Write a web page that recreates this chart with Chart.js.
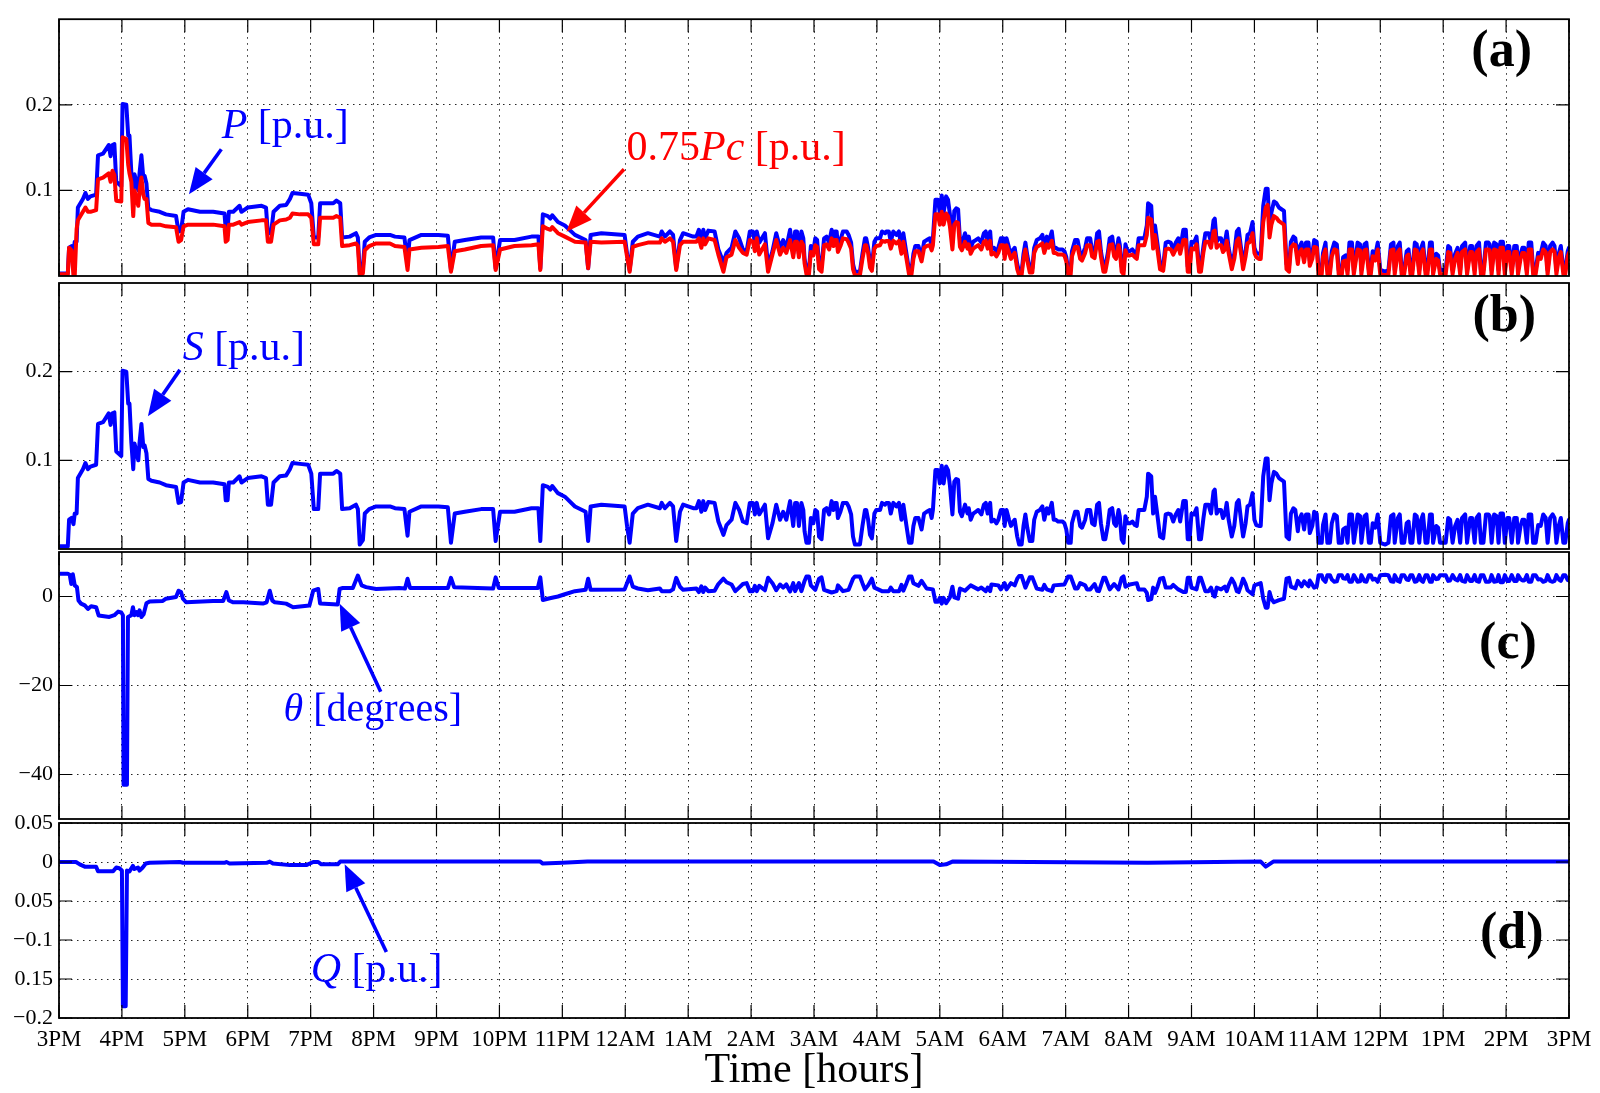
<!DOCTYPE html>
<html><head><meta charset="utf-8">
<script src="https://cdn.jsdelivr.net/npm/chart.js"></script>
<style>
html,body{margin:0;padding:0;background:#fff;}
#wrap{position:relative;width:1600px;height:1093px;background:#fff;}
canvas{position:absolute;left:0;top:0;}
</style></head>
<body><div id="wrap">
<canvas id="ca" width="1600" height="1093"></canvas>
<canvas id="cb" width="1600" height="1093"></canvas>
<canvas id="cc" width="1600" height="1093"></canvas>
<canvas id="cd" width="1600" height="1093"></canvas>
</div>
<script>
// ---------- tick labels ----------
const hourTicks = [0,1,2,3,4,5,6,7,8,9,10,11,12,13,14,15,16,17,18,19,20,21,22,23,24];
const hourLabels = ['3PM','4PM','5PM','6PM','7PM','8PM','9PM','10PM','11PM','12AM','1AM','2AM','3AM','4AM','5AM','6AM','7AM','8AM','9AM','10AM','11AM','12PM','1PM','2PM','3PM'];
const puTicks = [0.1, 0.2];
const puTickLabels = ['0.1', '0.2'];
const thetaTicks = [-40, -20, 0];
const thetaTickLabels = ['\u221240', '\u221220', '0'];
const qTicks = [-0.2, -0.15, -0.1, -0.05, 0, 0.05];
const qTickLabels = ['\u22120.2', '0.15', '\u22120.1', '0.05', '0', '0.05'];

// ---------- series (time in hours after 3PM) ----------
const pTimes = [
0.00,0.14,0.16,0.20,0.23,0.25,0.28,0.30,0.38,0.42,
0.46,0.50,0.59,0.62,0.70,0.79,0.82,0.85,0.88,0.91,
0.99,1.01,1.07,1.10,1.12,1.15,1.18,1.20,1.23,1.26,
1.28,1.31,1.34,1.36,1.39,1.42,1.47,1.60,1.70,1.86,
1.90,1.94,1.98,2.05,2.24,2.45,2.63,2.65,2.68,2.70,
2.77,2.87,2.90,3.00,3.22,3.29,3.32,3.37,3.41,3.51,
3.61,3.67,3.71,3.83,3.96,4.01,4.05,4.12,4.15,4.36,
4.41,4.47,4.50,4.62,4.72,4.75,4.78,4.83,4.86,4.93,
5.04,5.26,
5.34,5.49,5.54,5.57,5.76,6.03,6.18,6.23,6.29,6.45,
6.71,6.90,6.94,7.01,7.24,7.51,7.62,7.65,7.69,7.77,
7.81,7.84,7.93,8.04,8.20,8.37,8.41,8.45,8.62,8.99,
9.03,9.07,9.12,9.20,9.36,9.55,9.58,9.63,9.71,9.76,
9.81,9.87,9.92,10.08,10.13,10.17,10.21,10.24,10.27,10.32,
10.42,10.48,10.56,10.61,10.69,10.75,10.81,10.87,10.93,10.98,
11.03,11.06,11.09,11.13,11.22,11.27,11.34,11.40,11.46,11.51,
11.56,11.62,
11.67,11.70,11.73,11.76,11.80,11.83,11.85,11.88,11.92,11.95,
11.99,12.02,12.05,12.08,12.12,12.16,12.20,12.24,12.28,12.31,
12.33,12.36,12.38,12.42,12.46,12.52,12.55,12.59,12.62,12.65,
12.73,12.77,12.81,12.83,12.86,12.89,12.92,12.96,12.99,13.05,
13.08,13.13,13.15,13.19,13.22,13.26,13.31,13.35,13.39,13.42,
13.47,13.51,13.55,13.58,13.61,13.66,13.71,13.75,13.79,13.84,
13.87,13.89,13.93,13.97,14.00,14.03,14.06,14.10,14.13,14.16,
14.20,14.23,14.26,14.29,14.32,14.35,14.40,14.44,14.46,14.49,
14.53,14.57,14.61,14.66,14.70,14.73,14.76,14.80,14.82,14.86,
14.90,14.93,14.97,15.01,15.03,15.06,15.10,15.13,15.17,15.19,
15.23,15.26,15.30,15.33,15.36,15.39,15.43,15.47,15.50,15.54,
15.59,15.63,15.66,15.70,15.73,15.78,15.81,15.84,15.88,15.95,
15.98,16.01,16.04,16.08,16.10,16.15,16.19,16.23,16.26,16.31,
16.34,16.39,16.42,16.46,16.50,16.53,16.56,16.60,16.63,16.67,
16.70,16.74,16.77,16.80,16.84,16.86,16.89,16.92,16.95,16.98,
17.02,17.06,17.10,17.13,17.16,17.21,17.25,17.29,17.31,17.36,
17.39,17.42,17.46,17.50,17.55,17.59,17.63,17.67,17.71,17.75,
17.79,
17.82,17.87,17.91,17.94,17.97,18.00,18.04,18.08,18.12,18.15,
18.19,18.22,18.27,18.31,18.35,18.37,18.40,18.43,18.47,18.50,
18.53,18.56,18.59,18.64,18.68,18.72,18.75,18.79,18.82,18.86,
18.89,18.93,18.97,19.00,19.03,19.07,19.10,19.14,19.18,19.21,
19.24,19.27,19.31,19.35,19.39,19.43,19.47,19.51,19.55,19.58,
19.62,19.65,19.69,19.71,19.75,19.79,19.82,19.86,19.88,19.92,
19.95,19.99,20.02,20.07,20.09,20.13,20.16,20.20,20.23,20.27,
20.31,20.34,20.39,20.41,20.45,20.48,20.51,20.55,20.58,20.61,
20.64,20.68,20.70,20.75,20.78,20.82,20.85,20.88,20.92,20.96,
21.00,21.08,21.13,21.17,21.21,21.23,21.28,21.31,21.34,21.38,
21.42,21.45,21.48,21.51,21.55,21.58,21.62,21.65,21.68,21.72,
21.75,21.79,21.82,21.84,21.89,21.92,21.95,22.04,22.08,22.11,
22.15,22.19,22.23,22.27,22.30,22.35,22.38,22.43,22.46,22.50,
22.53,22.57,22.60,22.64,22.68,22.72,22.74,22.77,22.81,22.85,
22.88,22.91,22.95,22.98,23.02,23.05,23.09,23.13,23.17,23.19,
23.23,23.26,23.29,23.33,23.36,23.40,23.43,23.47,23.51,23.55,
23.59,23.63,23.66,23.70,23.74,23.77,23.80,23.84,23.87,23.91,
23.94,23.98,24.00];

const pValues = [
0.003,0.003,0.033,0.035,0.028,0.040,0.040,0.080,0.090,0.097,
0.090,0.093,0.095,0.141,0.143,0.153,0.140,0.153,0.154,0.110,
0.105,0.201,0.200,0.164,0.164,0.120,0.090,0.119,0.110,0.100,
0.120,0.141,0.115,0.117,0.108,0.079,0.077,0.075,0.072,0.070,
0.052,0.053,0.075,0.078,0.075,0.075,0.073,0.055,0.055,0.075,
0.075,0.082,0.075,0.080,0.082,0.080,0.050,0.050,0.075,0.082,
0.083,0.090,0.097,0.096,0.095,0.085,0.045,0.045,0.085,0.085,
0.088,0.085,0.045,0.046,0.050,0.045,0.005,0.010,0.040,0.045,
0.048,0.048,
0.046,0.045,0.015,0.042,0.048,0.048,0.047,0.007,0.040,0.042,
0.045,0.045,0.009,0.042,0.042,0.046,0.046,0.009,0.072,0.070,
0.067,0.071,0.063,0.059,0.048,0.042,0.009,0.048,0.050,0.048,
0.025,0.007,0.040,0.046,0.050,0.046,0.052,0.046,0.052,0.048,
0.009,0.042,0.050,0.046,0.046,0.054,0.042,0.054,0.044,0.053,
0.052,0.031,0.016,0.027,0.033,0.052,0.044,0.031,0.029,0.052,
0.052,0.039,0.052,0.039,0.050,0.012,0.029,0.050,0.033,0.042,
0.033,0.054,
0.026,0.052,0.052,0.026,0.052,0.044,0.020,0.007,0.007,0.035,
0.029,0.044,0.042,0.014,0.011,0.044,0.046,0.039,0.054,0.044,
0.052,0.052,0.035,0.042,0.052,0.052,0.048,0.039,0.014,0.005,
0.005,0.026,0.044,0.044,0.033,0.016,0.012,0.040,0.044,0.044,
0.052,0.050,0.052,0.052,0.040,0.052,0.048,0.052,0.033,0.050,
0.026,0.007,0.007,0.026,0.035,0.035,0.022,0.040,0.042,0.044,
0.035,0.044,0.089,0.089,0.074,0.094,0.074,0.093,0.089,0.072,
0.039,0.076,0.079,0.078,0.042,0.037,0.050,0.040,0.046,0.033,
0.040,0.042,0.044,0.039,0.050,0.052,0.040,0.052,0.031,0.033,
0.029,0.033,0.044,0.044,0.026,0.044,0.033,0.026,0.031,0.033,
0.014,0.005,0.005,0.026,0.039,0.024,0.009,0.009,0.033,0.042,
0.044,0.048,0.033,0.046,0.040,0.052,0.033,0.033,0.031,0.031,
0.029,0.022,0.007,0.007,0.029,0.042,0.042,0.026,0.024,0.033,
0.044,0.044,0.029,0.027,0.050,0.052,0.029,0.011,0.011,0.027,
0.044,0.046,0.029,0.026,0.044,0.037,0.011,0.007,0.037,0.029,
0.029,0.031,0.027,0.026,0.044,0.044,0.044,0.059,0.085,0.082,
0.040,0.059,0.037,0.014,0.012,0.039,0.040,0.039,0.031,0.039,
0.044,
0.031,0.054,0.054,0.011,0.011,0.040,0.039,0.046,0.011,0.011,
0.035,0.050,0.050,0.040,0.065,0.067,0.040,0.044,0.044,0.035,
0.039,0.052,0.033,0.014,0.026,0.052,0.055,0.031,0.014,0.029,
0.048,0.050,0.063,0.033,0.027,0.026,0.026,0.082,0.102,0.102,
0.055,0.074,0.087,0.085,0.080,0.078,0.076,0.014,0.011,0.040,
0.046,0.044,0.020,0.033,0.039,0.022,0.039,0.039,0.018,0.026,
0.042,0.040,0.007,0.007,0.027,0.039,0.007,0.007,0.029,0.039,
0.037,0.007,0.007,0.022,0.024,0.007,0.039,0.039,0.007,0.022,
0.039,0.037,0.007,0.037,0.039,0.007,0.007,0.029,0.024,0.039,
0.007,0.005,0.007,0.037,0.039,0.007,0.035,0.039,0.007,0.007,
0.029,0.031,0.007,0.007,0.039,0.037,0.007,0.033,0.039,0.007,
0.007,0.039,0.039,0.007,0.026,0.024,0.007,0.007,0.035,0.033,
0.007,0.026,0.033,0.007,0.035,0.039,0.007,0.035,0.035,0.007,
0.035,0.039,0.007,0.007,0.039,0.039,0.037,0.007,0.039,0.037,
0.007,0.040,0.040,0.007,0.035,0.035,0.007,0.035,0.035,0.007,
0.026,0.033,0.033,0.007,0.039,0.039,0.007,0.007,0.027,0.026,
0.039,0.035,0.007,0.035,0.039,0.035,0.007,0.027,0.035,0.007,
0.007,0.029,0.033];

const pcValues = [
0.002,0.002,0.033,0.030,0.000,0.000,0.055,0.065,0.075,0.080,
0.075,0.075,0.077,0.113,0.115,0.120,0.110,0.123,0.118,0.088,
0.087,0.162,0.160,0.130,0.120,0.110,0.070,0.100,0.090,0.082,
0.100,0.115,0.095,0.090,0.090,0.062,0.060,0.060,0.058,0.057,
0.040,0.042,0.058,0.060,0.060,0.060,0.058,0.040,0.042,0.060,
0.060,0.063,0.060,0.063,0.065,0.065,0.040,0.040,0.060,0.065,
0.066,0.068,0.073,0.072,0.072,0.068,0.037,0.037,0.068,0.068,
0.070,0.068,0.035,0.036,0.038,0.035,0.000,0.003,0.030,0.035,
0.038,0.038,
0.035,0.034,0.007,0.031,0.033,0.034,0.035,0.005,0.029,0.031,
0.035,0.036,0.007,0.031,0.035,0.036,0.037,0.007,0.058,0.055,
0.054,0.057,0.050,0.046,0.040,0.039,0.009,0.040,0.039,0.040,
0.022,0.005,0.034,0.036,0.039,0.039,0.044,0.040,0.044,0.040,
0.007,0.036,0.040,0.040,0.040,0.044,0.033,0.044,0.037,0.044,
0.042,0.025,0.005,0.022,0.025,0.042,0.033,0.027,0.025,0.042,
0.040,0.029,0.044,0.025,0.037,0.005,0.025,0.042,0.025,0.033,
0.027,0.042,
0.022,0.040,0.040,0.022,0.040,0.036,0.015,0.002,0.002,0.028,
0.024,0.036,0.034,0.008,0.005,0.036,0.037,0.031,0.044,0.035,
0.042,0.042,0.028,0.035,0.044,0.043,0.039,0.032,0.008,0.001,
0.001,0.020,0.036,0.036,0.027,0.010,0.006,0.032,0.035,0.036,
0.041,0.040,0.041,0.041,0.032,0.041,0.038,0.041,0.026,0.040,
0.020,0.002,0.002,0.020,0.029,0.029,0.017,0.033,0.035,0.036,
0.030,0.036,0.072,0.072,0.060,0.075,0.060,0.073,0.070,0.058,
0.031,0.060,0.063,0.062,0.034,0.030,0.040,0.032,0.037,0.026,
0.032,0.034,0.036,0.031,0.040,0.041,0.032,0.041,0.025,0.027,
0.023,0.027,0.036,0.036,0.020,0.036,0.027,0.020,0.025,0.027,
0.008,0.001,0.001,0.020,0.031,0.018,0.004,0.004,0.027,0.034,
0.036,0.038,0.027,0.037,0.033,0.041,0.027,0.027,0.025,0.025,
0.024,0.017,0.002,0.002,0.023,0.034,0.034,0.020,0.018,0.027,
0.036,0.036,0.023,0.021,0.040,0.041,0.023,0.005,0.005,0.021,
0.036,0.037,0.023,0.020,0.036,0.030,0.005,0.002,0.030,0.024,
0.024,0.025,0.022,0.020,0.036,0.036,0.036,0.048,0.068,0.066,
0.032,0.048,0.030,0.008,0.006,0.031,0.032,0.031,0.025,0.031,
0.036,
0.026,0.042,0.042,0.005,0.005,0.032,0.031,0.037,0.005,0.005,
0.028,0.040,0.040,0.033,0.052,0.053,0.033,0.036,0.036,0.028,
0.031,0.041,0.027,0.008,0.020,0.041,0.044,0.025,0.008,0.023,
0.038,0.040,0.050,0.027,0.022,0.020,0.020,0.063,0.080,0.083,
0.045,0.060,0.070,0.068,0.064,0.062,0.060,0.008,0.005,0.033,
0.037,0.036,0.014,0.027,0.031,0.016,0.031,0.031,0.012,0.020,
0.034,0.033,0.002,0.002,0.022,0.031,0.002,0.002,0.023,0.031,
0.030,0.002,0.002,0.017,0.018,0.002,0.031,0.031,0.002,0.017,
0.031,0.030,0.002,0.030,0.031,0.002,0.002,0.023,0.018,0.031,
0.002,0.001,0.002,0.030,0.031,0.002,0.028,0.031,0.002,0.002,
0.023,0.025,0.002,0.002,0.031,0.030,0.002,0.027,0.031,0.002,
0.002,0.031,0.031,0.002,0.020,0.018,0.002,0.002,0.028,0.027,
0.002,0.020,0.027,0.002,0.028,0.031,0.002,0.028,0.028,0.002,
0.028,0.031,0.002,0.002,0.031,0.031,0.030,0.002,0.031,0.030,
0.002,0.033,0.033,0.002,0.028,0.028,0.002,0.028,0.028,0.002,
0.020,0.027,0.027,0.002,0.031,0.031,0.002,0.002,0.022,0.020,
0.031,0.028,0.002,0.028,0.031,0.028,0.002,0.022,0.028,0.002,
0.002,0.023,0.027];

// panel (b): S read at the same instants as P
const sTimes = pTimes;
const sValues = [
0.003,0.003,0.033,0.035,0.028,0.040,0.040,0.080,0.090,0.097,
0.090,0.093,0.095,0.141,0.143,0.153,0.140,0.153,0.154,0.110,
0.105,0.201,0.200,0.164,0.164,0.120,0.090,0.119,0.110,0.100,
0.120,0.141,0.115,0.117,0.108,0.079,0.077,0.075,0.072,0.070,
0.052,0.053,0.075,0.078,0.075,0.075,0.073,0.055,0.055,0.075,
0.075,0.082,0.075,0.080,0.082,0.080,0.050,0.050,0.075,0.082,
0.083,0.090,0.097,0.096,0.095,0.085,0.045,0.045,0.085,0.085,
0.088,0.085,0.045,0.046,0.050,0.045,0.005,0.010,0.040,0.045,
0.048,0.048,
0.046,0.045,0.015,0.042,0.048,0.048,0.047,0.007,0.040,0.042,
0.045,0.045,0.009,0.042,0.042,0.046,0.046,0.009,0.072,0.070,
0.067,0.071,0.063,0.059,0.048,0.042,0.009,0.048,0.050,0.048,
0.025,0.007,0.040,0.046,0.050,0.046,0.052,0.046,0.052,0.048,
0.009,0.042,0.050,0.046,0.046,0.054,0.042,0.054,0.044,0.053,
0.052,0.031,0.016,0.027,0.033,0.052,0.044,0.031,0.029,0.052,
0.052,0.039,0.052,0.039,0.050,0.012,0.029,0.050,0.033,0.042,
0.033,0.054,
0.026,0.052,0.052,0.026,0.052,0.044,0.020,0.007,0.007,0.035,
0.029,0.044,0.042,0.014,0.011,0.044,0.046,0.039,0.054,0.044,
0.052,0.052,0.035,0.042,0.052,0.052,0.048,0.039,0.014,0.005,
0.005,0.026,0.044,0.044,0.033,0.016,0.012,0.040,0.044,0.044,
0.052,0.050,0.052,0.052,0.040,0.052,0.048,0.052,0.033,0.050,
0.026,0.007,0.007,0.026,0.035,0.035,0.022,0.040,0.042,0.044,
0.035,0.044,0.089,0.089,0.074,0.094,0.074,0.093,0.089,0.072,
0.039,0.076,0.079,0.078,0.042,0.037,0.050,0.040,0.046,0.033,
0.040,0.042,0.044,0.039,0.050,0.052,0.040,0.052,0.031,0.033,
0.029,0.033,0.044,0.044,0.026,0.044,0.033,0.026,0.031,0.033,
0.014,0.005,0.005,0.026,0.039,0.024,0.009,0.009,0.033,0.042,
0.044,0.048,0.033,0.046,0.040,0.052,0.033,0.033,0.031,0.031,
0.029,0.022,0.007,0.007,0.029,0.042,0.042,0.026,0.024,0.033,
0.044,0.044,0.029,0.027,0.050,0.052,0.029,0.011,0.011,0.027,
0.044,0.046,0.029,0.026,0.044,0.037,0.011,0.007,0.037,0.029,
0.029,0.031,0.027,0.026,0.044,0.044,0.044,0.059,0.085,0.082,
0.040,0.059,0.037,0.014,0.012,0.039,0.040,0.039,0.031,0.039,
0.044,
0.031,0.054,0.054,0.011,0.011,0.040,0.039,0.046,0.011,0.011,
0.035,0.050,0.050,0.040,0.065,0.067,0.040,0.044,0.044,0.035,
0.039,0.052,0.033,0.014,0.026,0.052,0.055,0.031,0.014,0.029,
0.048,0.050,0.063,0.033,0.027,0.026,0.026,0.082,0.102,0.102,
0.055,0.074,0.087,0.085,0.080,0.078,0.076,0.014,0.011,0.040,
0.046,0.044,0.020,0.033,0.039,0.022,0.039,0.039,0.018,0.026,
0.042,0.040,0.007,0.007,0.027,0.039,0.007,0.007,0.029,0.039,
0.037,0.007,0.007,0.022,0.024,0.007,0.039,0.039,0.007,0.022,
0.039,0.037,0.007,0.037,0.039,0.007,0.007,0.029,0.024,0.039,
0.007,0.005,0.007,0.037,0.039,0.007,0.035,0.039,0.007,0.007,
0.029,0.031,0.007,0.007,0.039,0.037,0.007,0.033,0.039,0.007,
0.007,0.039,0.039,0.007,0.026,0.024,0.007,0.007,0.035,0.033,
0.007,0.026,0.033,0.007,0.035,0.039,0.007,0.035,0.035,0.007,
0.035,0.039,0.007,0.007,0.039,0.039,0.037,0.007,0.039,0.037,
0.007,0.040,0.040,0.007,0.035,0.035,0.007,0.035,0.035,0.007,
0.026,0.033,0.033,0.007,0.039,0.039,0.007,0.007,0.027,0.026,
0.039,0.035,0.007,0.035,0.039,0.035,0.007,0.027,0.035,0.007,
0.007,0.029,0.033];

const thetaTimes = [
0,0.14,0.17,0.195,0.22,0.25,0.285,0.31,0.35,0.41,
0.46,0.51,0.59,0.63,0.80,0.88,0.94,0.99,1.016,1.026,
1.08,1.096,1.15,1.175,1.20,1.23,1.255,1.28,1.31,1.345,
1.39,1.44,1.65,1.70,1.86,1.90,1.94,1.97,2.02,2.45,
2.61,2.66,2.70,2.77,2.93,3.24,3.30,3.35,3.39,3.43,
3.61,3.72,3.98,4.04,4.12,4.15,4.43,4.46,4.51,4.67,
4.75,4.81,4.88,5.04,5.41,
5.50,5.54,5.58,6.18,6.23,6.28,6.90,6.94,6.99,7.61,
7.65,7.69,7.80,7.93,8.04,8.20,8.37,8.41,8.45,8.99,
9.07,9.12,9.20,9.36,9.55,9.58,9.71,9.76,9.81,9.87,
9.92,10.13,10.17,10.21,10.24,10.27,10.32,10.42,10.48,10.56,
10.61,10.69,10.75,10.81,10.87,10.93,10.98,11.03,11.06,11.09,
11.13,11.22,11.27,11.34,11.40,11.46,11.51,11.56,11.62,11.67,
11.70,11.76,11.80,11.85,11.88,11.92,11.95,12.02,12.08,12.12,
12.16,12.28,12.36,12.38,12.46,12.55,12.62,12.65,12.73,12.77,
12.81,12.86,12.92,12.96,13.08,13.19,13.22,13.26,13.35,13.39,
13.42,13.47,13.51,13.55,13.58,13.66,13.71,13.79,13.89,13.93,
13.97,14.00,14.03,14.06,14.10,14.16,14.20,14.23,14.29,14.32,
14.40,14.49,14.61,14.66,14.73,14.76,14.80,14.82,14.93,14.97,
15.03,15.06,15.13,15.19,15.23,15.26,15.30,15.36,15.43,15.47,
15.54,15.63,15.66,15.70,15.78,15.81,15.98,16.04,16.08,16.15,
16.19,16.23,16.31,16.34,16.39,16.46,16.50,16.53,16.60,16.63,
16.70,16.77,16.84,16.89,16.92,16.95,17.02,17.13,17.16,17.25,
17.29,17.31,17.36,17.39,17.42,17.46,17.50,17.55,17.59,17.67,
17.71,17.79,17.87,17.91,17.94,17.97,18.00,18.08,18.12,18.15,
18.19,18.22,18.27,18.31,18.35,18.37,18.40,18.47,18.53,18.56,
18.59,18.64,18.68,18.72,18.75,18.79,18.82,18.86,18.89,18.97,
19.00,19.10,19.14,19.18,19.21,19.24,19.27,19.31,19.39,19.47,
19.51,19.55,19.58,19.65,19.69,19.75,19.79,19.86,19.88,19.95,
19.99,
20.02,20.07,20.09,20.13,20.16,20.20,20.23,20.27,20.31,20.34,
20.39,20.41,20.45,20.48,20.51,20.55,20.58,20.61,20.64,20.68,
20.70,20.75,20.78,20.82,20.85,20.88,20.92,20.96,21.00,21.08,
21.13,21.17,21.21,21.23,21.28,21.31,21.34,21.38,21.42,21.45,
21.48,21.51,21.55,21.58,21.62,21.65,21.68,21.72,21.75,21.79,
21.82,21.84,21.89,21.92,21.95,22.04,22.08,22.11,22.15,22.19,
22.23,22.27,22.30,22.35,22.38,22.43,22.46,22.50,22.53,22.57,
22.60,22.64,22.68,22.72,22.74,22.77,22.81,22.85,22.88,22.91,
22.95,22.98,23.02,23.05,23.09,23.13,23.17,23.19,23.23,23.26,
23.29,23.33,23.36,23.40,23.43,23.47,23.51,23.55,23.59,23.63,
23.66,23.70,23.74,23.77,23.80,23.84,23.87,23.91,23.94,23.98,
24.00];

const thetaValues = [
5.1,5.1,4.9,2.8,5.0,2.5,2.1,-0.9,-1.6,-2.0,
-2.8,-2.2,-2.4,-4.25,-4.6,-4.2,-3.4,-3.6,-4.2,-42.3,
-42.3,-4.6,-4.2,-2.4,-4.2,-3.5,-4.2,-3.1,-4.6,-4.0,
-1.5,-1.1,-1.0,-0.5,-0.1,1.3,1.0,-0.5,-1.3,-1.0,
-1.0,1.0,-0.9,-1.3,-1.3,-1.6,-1.3,1.3,-0.9,-1.3,
-1.6,-2.4,-2.0,1.3,1.7,-1.6,-1.8,1.7,1.9,1.9,
4.7,2.5,2.1,1.7,1.9,
1.8,4.0,1.9,1.9,4.2,2.1,1.8,4.3,1.9,1.9,
4.3,-0.8,-0.4,0.0,0.5,1.2,1.5,4.0,1.5,1.6,
4.5,2.2,1.8,1.4,1.8,1.2,1.2,1.6,4.2,2.2,
1.5,1.8,1.0,2.3,1.0,2.0,1.2,1.3,2.8,4.0,
3.2,2.7,1.2,2.0,2.8,3.0,1.2,1.2,2.4,1.2,
2.4,1.4,4.2,3.0,1.4,2.7,2.0,2.7,1.1,3.0,
1.2,3.0,1.2,3.5,4.5,4.5,2.5,1.5,4.0,4.3,
1.5,0.9,1.2,2.5,1.2,1.5,4.0,4.5,4.5,3.0,
1.6,2.5,4.0,2.0,1.2,1.2,2.0,1.2,1.2,2.6,
1.3,3.0,4.5,4.5,3.0,2.4,3.5,1.8,1.6,-1.2,
-1.2,-0.3,-1.6,-0.3,-1.5,-0.2,2.2,-0.2,-0.5,1.8,
1.3,2.5,1.6,2.0,1.2,2.0,1.2,2.7,2.5,1.6,
3.0,1.6,3.0,2.5,4.0,4.6,4.6,2.0,4.3,4.3,
1.8,1.5,2.6,1.6,1.2,2.5,2.7,4.5,4.5,1.8,
1.8,3.0,2.5,1.6,1.6,2.8,1.3,1.2,4.2,4.2,
1.6,2.8,1.6,4.2,4.5,2.2,2.7,3.0,1.6,1.6,
0.8,-0.8,-0.6,2.0,0.8,2.2,4.0,4.2,2.0,2.0,
2.6,1.6,1.0,1.0,4.2,4.2,2.0,1.6,4.2,4.2,
2.5,1.2,1.2,2.0,0.2,0.0,2.0,1.6,2.2,1.2,
2.5,4.0,3.0,1.2,1.0,2.6,4.0,2.8,1.4,0.5,
2.5,3.0,-0.5,-2.5,-2.5,1.0,-0.5,-1.3,-0.8,-0.5,
4.0,4.2,2.2,1.8,3.5,2.3,3.4,2.3,3.6,2.0,
2.2,
4.8,4.8,3.9,3.3,4.8,4.8,3.8,3.3,3.4,4.8,
4.8,4.1,4.0,4.8,3.3,3.3,4.8,4.1,3.3,3.4,
4.8,3.4,3.3,4.8,4.8,3.8,4.0,3.3,4.8,4.9,
4.8,3.4,3.3,4.8,3.5,3.3,4.8,4.8,3.8,3.7,
4.8,4.8,3.3,3.4,4.8,3.6,3.3,4.8,4.8,3.3,
3.3,4.8,3.9,4.0,4.8,4.8,3.5,3.6,4.8,3.9,
3.6,4.8,3.5,3.3,4.8,3.5,3.5,4.8,3.5,3.3,
4.8,4.8,3.3,3.3,3.4,4.8,3.3,3.4,4.8,3.2,
3.2,4.8,3.5,3.5,4.8,3.5,3.5,4.8,3.9,3.6,
3.6,4.8,3.3,3.3,4.8,4.8,3.8,3.9,3.3,3.5,
4.8,3.5,3.3,3.5,4.8,3.8,3.5,4.8,4.8,3.7,
3.6];

const qTimes = [
0,0.27,0.33,0.41,0.59,0.62,0.86,0.91,0.96,1.0,
1.016,1.06,1.08,1.12,1.175,1.2,1.255,1.28,1.33,1.38,
1.44,1.92,1.97,2.63,2.66,2.71,3.30,3.35,3.40,3.67,
3.93,4.04,4.12,4.17,4.43,4.47,5.40,7.65,7.69,8.00,
8.40,13.90,14.00,14.10,14.20,17.30,19.10,19.18,19.30,24.0];
const qValues = [
0,0,-0.003,-0.006,-0.006,-0.012,-0.012,-0.007,-0.008,-0.011,
-0.185,-0.185,-0.011,-0.012,-0.005,-0.009,-0.007,-0.011,-0.007,-0.002,
-0.001,0,-0.001,-0.001,0,-0.002,-0.001,0.0005,-0.002,-0.004,
-0.004,0,0,-0.003,-0.003,0.0005,0.0005,0.0005,-0.002,-0.001,
0.0005,0.0005,-0.004,-0.003,0.0005,-0.001,0.0005,-0.006,0.0005,0.0005];

// ---------- drawing ----------
const FONT = '"Liberation Serif", "Times New Roman", serif';
const BLUE = '#0000ff', RED = '#ff0000';
Chart.defaults.font.family = FONT;
Chart.defaults.color = '#000';

function pts(ts, vs) { return ts.map((t, i) => ({ x: t, y: vs[i] })); }

const framePlugin = {
  id: 'frame',
  afterDraw(chart, args, opts) {
    const { ctx, chartArea: a, scales } = chart;
    const tl = 13;
    ctx.save();
    ctx.strokeStyle = '#000';
    ctx.lineWidth = 1.2;
    ctx.beginPath();
    hourTicks.forEach(v => {
      const px = scales.x.getPixelForValue(v);
      ctx.moveTo(px, a.bottom); ctx.lineTo(px, a.bottom - tl);
      ctx.moveTo(px, a.top); ctx.lineTo(px, a.top + tl);
    });
    opts.yTicks.forEach(v => {
      const py = scales.y.getPixelForValue(v);
      ctx.moveTo(a.left, py); ctx.lineTo(a.left + tl, py);
      ctx.moveTo(a.right, py); ctx.lineTo(a.right - tl, py);
    });
    ctx.stroke();
    ctx.lineWidth = 1.8;
    ctx.strokeRect(a.left, a.top, a.right - a.left, a.bottom - a.top);
    ctx.restore();
  }
};

function drawArrow(ctx, x1, y1, x2, y2, color) {
  const ang = Math.atan2(y2 - y1, x2 - x1);
  const hl = 26, hw = 10.5;
  const bx = x2 - hl * Math.cos(ang), by = y2 - hl * Math.sin(ang);
  ctx.save();
  ctx.strokeStyle = color; ctx.fillStyle = color;
  ctx.lineWidth = 3.6; ctx.lineCap = 'butt';
  ctx.beginPath(); ctx.moveTo(x1, y1); ctx.lineTo(bx, by); ctx.stroke();
  ctx.beginPath();
  ctx.moveTo(x2, y2);
  ctx.lineTo(bx + hw * Math.sin(ang), by - hw * Math.cos(ang));
  ctx.lineTo(bx - hw * Math.sin(ang), by + hw * Math.cos(ang));
  ctx.closePath(); ctx.fill();
  ctx.restore();
}

const notePlugin = {
  id: 'notes',
  afterDraw(chart, args, opts) {
    const { ctx, scales } = chart;
    const X = v => scales.x.getPixelForValue(v), Y = v => scales.y.getPixelForValue(v);
    (opts.items || []).forEach(n => {
      if (n.kind === 'arrow') { drawArrow(ctx, X(n.x1), Y(n.y1), X(n.x2), Y(n.y2), n.color); return; }
      ctx.save();
      ctx.fillStyle = n.color; ctx.textBaseline = 'alphabetic'; ctx.textAlign = 'left';
      const fontOf = p => (p.italic ? 'italic ' : '') + (n.bold ? 'bold ' : '') + n.size + 'px ' + FONT;
      let w = 0;
      n.parts.forEach(p => { ctx.font = fontOf(p); w += ctx.measureText(p.t).width; });
      let x = X(n.x) - (n.align === 'center' ? w / 2 : 0);
      const y = Y(n.y) + 0.25 * n.size;
      n.parts.forEach(p => { ctx.font = fontOf(p); ctx.fillText(p.t, x, y); x += ctx.measureText(p.t).width; });
      ctx.restore();
    });
  }
};

function makePanel(id, cfg) {
  const gridColor = 'rgba(0,0,0,0.85)';
  return new Chart(document.getElementById(id), {
    type: 'line',
    data: { datasets: cfg.datasets },
    options: {
      responsive: false, animation: false, devicePixelRatio: 1, events: [],
      layout: { padding: { left: 0, right: 31, top: cfg.top, bottom: cfg.bottomPad } },
      plugins: { legend: { display: false }, tooltip: { enabled: false },
        frame: { yTicks: cfg.yTicks }, notes: { items: cfg.notes } },
      elements: { point: { radius: 0 }, line: { tension: 0, borderJoinStyle: 'round', borderCapStyle: 'round' } },
      scales: {
        x: {
          type: 'linear', min: 0, max: 24,
          afterBuildTicks: s => { s.ticks = hourTicks.map(v => ({ value: v })); },
          afterFit: s => { s.height = cfg.xHeight; },
          grid: { color: gridColor, lineWidth: 1, drawTicks: false },
          border: { display: false, dash: [1.5, 4.5] },
          ticks: { display: cfg.showX, autoSkip: false, maxRotation: 0, minRotation: 0, padding: 8,
            font: { size: 23, family: FONT }, color: '#000',
            callback: (v, i) => hourLabels[i] },
          title: { display: cfg.showX, text: 'Time [hours]', color: '#000',
            font: { size: 42, family: FONT, lineHeight: 1.05 }, padding: { top: 0, bottom: 0 } }
        },
        y: {
          type: 'linear', min: cfg.ymin, max: cfg.ymax,
          afterBuildTicks: s => { s.ticks = cfg.yTicks.map(v => ({ value: v })); },
          afterFit: s => { s.width = 59; },
          grid: { color: gridColor, lineWidth: 1, drawTicks: false },
          border: { display: false, dash: [1.5, 4.5] },
          ticks: { padding: 6, font: { size: 22, family: FONT }, color: '#000',
            callback: (v, i) => cfg.yLabels[i] }
        }
      }
    },
    plugins: [framePlugin, notePlugin]
  });
}

const lineStyle = (color, order) => ({ borderColor: color, backgroundColor: color, borderWidth: 4, pointRadius: 0, fill: false, order: order });

makePanel('ca', {
  top: 9, bottomPad: 817, xHeight: 0, showX: false,
  ymin: 0, ymax: 0.3, yTicks: puTicks, yLabels: puTickLabels,
  datasets: [
    Object.assign({ label: 'P', data: pts(pTimes, pValues) }, lineStyle(BLUE, 1)),
    Object.assign({ label: '0.75Pc', data: pts(pTimes, pcValues) }, lineStyle(RED, 0))
  ],
  notes: [
    { kind: 'text', x: 2.585, y: 0.173, size: 42, color: BLUE, parts: [{ t: 'P', italic: true }, { t: ' [p.u.]' }] },
    { kind: 'arrow', x1: 2.58, y1: 0.148, x2: 2.065, y2: 0.0955, color: BLUE },
    { kind: 'text', x: 9.02, y: 0.148, size: 42, color: RED, parts: [{ t: '0.75' }, { t: 'Pc', italic: true }, { t: ' [p.u.]' }] },
    { kind: 'arrow', x1: 8.98, y1: 0.1247, x2: 8.065, y2: 0.0517, color: RED },
    { kind: 'text', x: 22.93, y: 0.261, size: 52, bold: true, align: 'center', color: '#000', parts: [{ t: '(a)' }] }
  ]
});

makePanel('cb', {
  top: 283, bottomPad: 544, xHeight: 0, showX: false,
  ymin: 0, ymax: 0.3, yTicks: puTicks, yLabels: puTickLabels,
  datasets: [ Object.assign({ label: 'S', data: pts(sTimes, sValues) }, lineStyle(BLUE, 0)) ],
  notes: [
    { kind: 'text', x: 1.965, y: 0.225, size: 42, color: BLUE, parts: [{ t: 'S', italic: true }, { t: ' [p.u.]' }] },
    { kind: 'arrow', x1: 1.922, y1: 0.202, x2: 1.413, y2: 0.1498, color: BLUE },
    { kind: 'text', x: 22.97, y: 0.26, size: 52, bold: true, align: 'center', color: '#000', parts: [{ t: '(b)' }] }
  ]
});

makePanel('cc', {
  top: 552, bottomPad: 274, xHeight: 0, showX: false,
  ymin: -50, ymax: 10, yTicks: thetaTicks, yLabels: thetaTickLabels,
  datasets: [ Object.assign({ label: 'theta', data: pts(thetaTimes, thetaValues) }, lineStyle(BLUE, 0)) ],
  notes: [
    { kind: 'text', x: 3.57, y: -25.8, size: 40, color: BLUE, parts: [{ t: '\u03b8', italic: true }, { t: ' [degrees]' }] },
    { kind: 'arrow', x1: 5.113, y1: -21.4, x2: 4.461, y2: -1.63, color: BLUE },
    { kind: 'text', x: 23.03, y: -11.0, size: 52, bold: true, align: 'center', color: '#000', parts: [{ t: '(c)' }] }
  ]
});

makePanel('cd', {
  top: 823, bottomPad: 0, xHeight: 75, showX: true,
  ymin: -0.2, ymax: 0.05, yTicks: qTicks, yLabels: qTickLabels,
  datasets: [ Object.assign({ label: 'Q', data: pts(qTimes, qValues) }, lineStyle(BLUE, 0)) ],
  notes: [
    { kind: 'text', x: 4.0, y: -0.141, size: 42, color: BLUE, parts: [{ t: 'Q', italic: true }, { t: ' [p.u.]' }] },
    { kind: 'arrow', x1: 5.203, y1: -0.1154, x2: 4.54, y2: -0.0029, color: BLUE },
    { kind: 'text', x: 23.09, y: -0.094, size: 52, bold: true, align: 'center', color: '#000', parts: [{ t: '(d)' }] }
  ]
});
</script>
</body></html>
